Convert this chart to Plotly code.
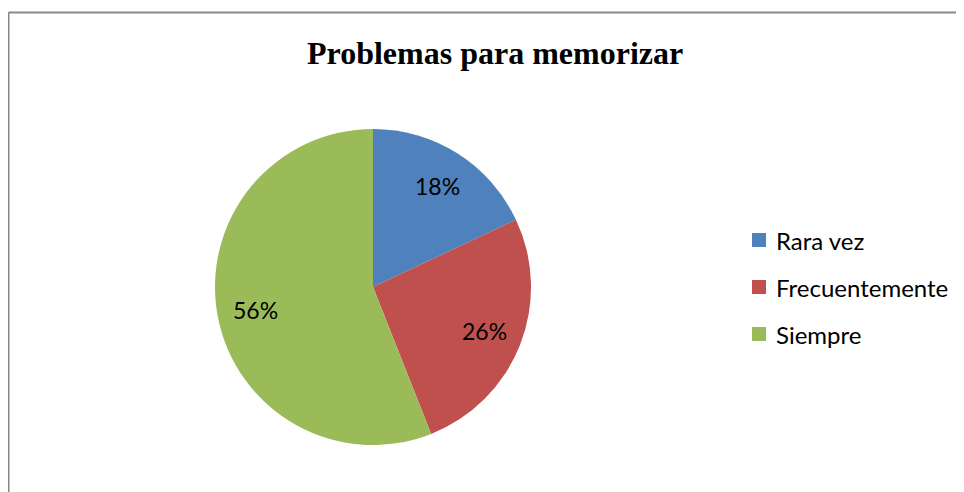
import plotly.graph_objects as go
import math

title = "Problemas para memorizar"
labels = ["Rara vez", "Frecuentemente", "Siempre"]
values = [18, 26, 56]
colors = ["#4F81BD", "#C0504D", "#9BBB59"]

W, H = 964, 492
OX, OY = 8, 8  # page body margin offset
cx, cy, r = 373 - OX, 287 - OY, 158


def px(x):
    return x / W


def py(y):
    return 1 - y / H


fig = go.Figure(go.Pie(
    labels=labels, values=values, sort=False, direction="clockwise", rotation=0,
    marker=dict(colors=colors, line=dict(width=0)),
    textinfo="none", showlegend=False, hoverinfo="label+percent",
    domain=dict(x=[(cx - r) / W, (cx + r) / W], y=[py(cy + r), py(cy - r)]),
))

annotations = []
total = sum(values)
cum = 0
for v in values:
    mid = (cum + v / 2) / total * 2 * math.pi
    cum += v
    x = cx + 0.76 * r * math.sin(mid)
    y = cy - 0.76 * r * math.cos(mid)
    annotations.append(dict(
        x=px(x), y=py(y), xref="paper", yref="paper", showarrow=False,
        text=f"{round(v / total * 100)}%", font=dict(family="Lato", size=23, color="#000000"),
        xanchor="center", yanchor="middle"))

annotations.append(dict(
    x=px(495 - OX), y=py(53 - OY), xref="paper", yref="paper", showarrow=False,
    text=f"<b>{title}</b>", font=dict(family="Liberation Serif", size=32, color="#000000"),
    xanchor="center", yanchor="middle"))

shapes = [
    dict(type="line", xref="paper", yref="paper", x0=px(8.5 - OX), x1=1.02, y0=py(12.5 - OY), y1=py(12.5 - OY),
         line=dict(color="#888888", width=2)),
    dict(type="line", xref="paper", yref="paper", x0=px(8.5 - OX), x1=px(8.5 - OX), y0=py(12.5 - OY), y1=-0.05,
         line=dict(color="#888888", width=2)),
]
for i, (lab, col) in enumerate(zip(labels, colors)):
    yc = 240 + 47 * i - OY
    shapes.append(dict(type="rect", xref="paper", yref="paper",
                       x0=px(752 - OX), x1=px(766 - OX), y0=py(yc + 7), y1=py(yc - 7),
                       fillcolor=col, line=dict(width=0)))
    annotations.append(dict(x=px(774 - OX), y=py(yc), xref="paper", yref="paper", showarrow=False,
                            text=lab, font=dict(family="Lato", size=24, color="#000000"),
                            xanchor="left", yanchor="middle"))

fig.update_layout(
    width=W, height=H, margin=dict(l=0, r=0, t=0, b=0),
    paper_bgcolor="white", plot_bgcolor="white",
    annotations=annotations, shapes=shapes,
)
fig.write_html("out.html")
